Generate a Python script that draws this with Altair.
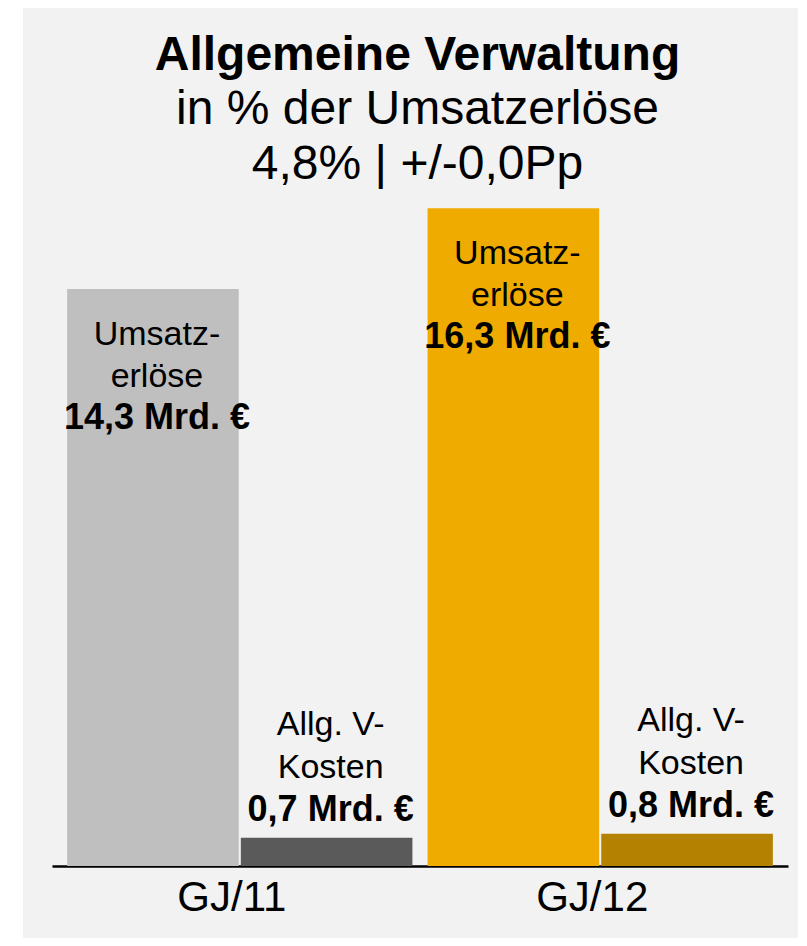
import altair as alt
import pandas as pd

years = ["GJ/11", "GJ/11", "GJ/12", "GJ/12"]
kinds = ["Umsatzerlöse", "Allg. V-Kosten", "Umsatzerlöse", "Allg. V-Kosten"]
values = [14.3, 0.7, 16.3, 0.8]
value_labels = ["14,3 Mrd. €", "0,7 Mrd. €", "16,3 Mrd. €", "0,8 Mrd. €"]
label_line1 = ["Umsatz-", "Allg. V-", "Umsatz-", "Allg. V-"]
label_line2 = ["erlöse", "Kosten", "erlöse", "Kosten"]
bar_keys = ["GJ/11 Umsatz", "GJ/11 Kosten", "GJ/12 Umsatz", "GJ/12 Kosten"]
bar_colors = ["#bfbfbf", "#5a5a5a", "#f0ab00", "#b48200"]

title_text = "Allgemeine Verwaltung"
subtitle_lines = ["in % der Umsatzerlöse", "4,8% | +/-0,0Pp"]

df = pd.DataFrame({
    "year": years,
    "kind": kinds,
    "value": values,
    "vlabel": value_labels,
    "l1": label_line1,
    "l2": label_line2,
    "key": bar_keys,
})

FONT = "Liberation Sans"
H = 930

x_enc = alt.X(
    "year:N",
    scale=alt.Scale(range=[29, 765], paddingInner=0.042, paddingOuter=0.042),
    axis=alt.Axis(
        title=None, orient="bottom", offset=858 - H, ticks=False, tickSize=0,
        domainColor="black", domainWidth=2.5, labelFontSize=42, labelFont=FONT,
        labelColor="black", labelPadding=44, labelBaseline="alphabetic",
        labelAngle=0, labelOffset=-8, grid=False,
    ),
)
xo_enc = alt.XOffset(
    "kind:N",
    scale=alt.Scale(domain=["Umsatzerlöse", "Allg. V-Kosten"], paddingInner=0.012, paddingOuter=0),
)
y_enc = alt.Y("value:Q", scale=alt.Scale(domain=[0, 21.26], range=[858, 0]), axis=None)

base = alt.Chart(df).encode(x=x_enc, xOffset=xo_enc, y=y_enc)

bars = base.mark_bar().encode(
    color=alt.Color("key:N", scale=alt.Scale(domain=bar_keys, range=bar_colors), legend=None)
)

um = base.transform_filter(alt.datum.kind == "Umsatzerlöse")
ko = base.transform_filter(alt.datum.kind == "Allg. V-Kosten")

def txt(src, field, dy, bold=False):
    return src.mark_text(
        font=FONT, fontSize=36 if bold else 34, fontWeight="bold" if bold else "normal",
        dy=dy, dx=4, baseline="alphabetic", align="center", color="black",
    ).encode(text=f"{field}:N")

layers = [
    bars,
    txt(um, "l1", 56), txt(um, "l2", 98), txt(um, "vlabel", 140, True),
    txt(ko, "l1", -103), txt(ko, "l2", -60), txt(ko, "vlabel", -17, True),
]

chart = alt.layer(*layers).properties(
    width=775,
    height=H,
    autosize=alt.AutoSizeParams(type="none"),
    padding={"left": 15, "top": 0, "right": 0, "bottom": 0},
    background="white",
    title=alt.TitleParams(
        text=title_text, subtitle=subtitle_lines, font=FONT, fontSize=48,
        fontWeight="bold", color="black", subtitleFont=FONT, subtitleFontSize=48,
        subtitleColor="black", subtitleLineHeight=55, subtitlePadding=6,
        anchor="middle", frame="group", offset=-181, dx=7,
    ),
).configure_view(fill="#f2f2f2", strokeWidth=0)

chart.save("out.html", embed_options={"renderer": "svg", "actions": False})
